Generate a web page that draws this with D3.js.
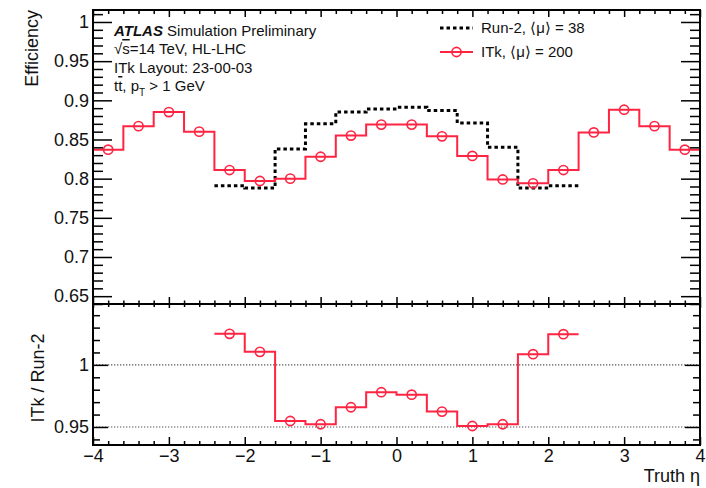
<!DOCTYPE html>
<html>
<head>
<meta charset="utf-8">
<script src="https://cdn.jsdelivr.net/npm/d3@7"></script>
<style>
  body { margin: 0; background: #fff; }
  svg { display: block; font-family: "Liberation Sans", Arial, Helvetica, sans-serif; }
</style>
</head>
<body>
<svg id="chart" width="706" height="488"></svg>
<script>
// ---- data: track reconstruction efficiency vs truth eta (bin centres, 0.4 wide bins)
const itkBins = [-3.8, -3.4, -3.0, -2.6, -2.2, -1.8, -1.4, -1.0, -0.6, -0.2,
                  0.2, 0.6, 1.0, 1.4, 1.8, 2.2, 2.6, 3.0, 3.4, 3.8];
const itkEff  = [0.837, 0.867, 0.885, 0.860, 0.811, 0.797, 0.800, 0.828, 0.855, 0.869,
                 0.869, 0.854, 0.829, 0.799, 0.794, 0.811, 0.859, 0.888, 0.867, 0.837];
const run2Bins = [-2.2, -1.8, -1.4, -1.0, -0.6, -0.2, 0.2, 0.6, 1.0, 1.4, 1.8, 2.2];
const run2Eff  = [0.791, 0.788, 0.838, 0.870, 0.885, 0.889, 0.891, 0.887, 0.871, 0.840, 0.788, 0.791];
const ratioVals = [1.025, 1.0105, 0.9548, 0.9522, 0.9659, 0.978, 0.976, 0.9624, 0.9508, 0.9522, 1.0086, 1.0247];
const binHalfWidth = 0.2;

// ---- tick labels
const xTicks = [-4, -3, -2, -1, 0, 1, 2, 3, 4];
const effTicks = [0.65, 0.7, 0.75, 0.8, 0.85, 0.9, 0.95, 1];
const ratioTicks = [0.95, 1];
const ratioRefLines = [0.95, 1];

const legendLabels = ["Run-2, \u27E8\u03BC\u27E9 = 38", "ITk, \u27E8\u03BC\u27E9 = 200"];

// ---- layout
const L = 93, R = 700;
const topY0 = 10, topY1 = 304, botY0 = 304, botY1 = 445;
const RED = "#ff2442";
const FONT_AX = 18;

const svg = d3.select("#chart");
const x = d3.scaleLinear([-4, 4], [L, R]);
const yTop = d3.scaleLinear([0.64, 1.0153], [topY1, topY0]);
const yBot = d3.scaleLinear([0.9355, 1.049], [botY1, botY0]);

const xMinor = d3.range(-40, 41, 2).map(d => d / 10).filter(d => !xTicks.includes(d));
const effMinor = d3.range(64, 102).map(d => d / 100).filter(d => !effTicks.some(t => Math.abs(t - d) < 1e-9));
const ratioMinor = d3.range(94, 105).map(d => d / 100).filter(d => !ratioTicks.some(t => Math.abs(t - d) < 1e-9));

function drawAxis(axis, transform, labelled) {
  const g = svg.append("g").attr("transform", transform).call(axis);
  g.select(".domain").remove();
  g.selectAll(".tick line").attr("stroke", "#000").attr("stroke-width", 1.5);
  if (labelled) {
    g.selectAll(".tick text").attr("font-size", FONT_AX).attr("fill", "#111")
      .attr("font-family", "'Liberation Sans', Arial, sans-serif");
  } else {
    g.selectAll(".tick text").remove();
  }
  return g;
}

// ---- step path builder: horizontal over each bin, vertical joins between bins
function stepPoints(centres, vals) {
  const pts = [];
  centres.forEach((c, i) => {
    pts.push([c - binHalfWidth, vals[i]]);
    pts.push([c + binHalfWidth, vals[i]]);
  });
  return pts;
}

// ===== top panel =====
const topClip = svg.append("clipPath").attr("id", "clipTop")
  .append("rect").attr("x", L).attr("y", topY0).attr("width", R - L).attr("height", topY1 - topY0);

const lineTop = d3.line().x(d => x(d[0])).y(d => yTop(d[1]));
const topG = svg.append("g").attr("clip-path", "url(#clipTop)");

topG.append("path")
  .attr("d", lineTop(stepPoints(run2Bins, run2Eff)))
  .attr("fill", "none").attr("stroke", "#000").attr("stroke-width", 3)
  .attr("stroke-dasharray", "3.5,3");

topG.append("path")
  .attr("d", lineTop(stepPoints(itkBins, itkEff)))
  .attr("fill", "none").attr("stroke", RED).attr("stroke-width", 2);

topG.selectAll("circle.itk").data(itkBins).join("circle")
  .attr("class", "itk")
  .attr("cx", d => x(d)).attr("cy", (d, i) => yTop(itkEff[i]))
  .attr("r", 4.6).attr("fill", "none").attr("stroke", RED).attr("stroke-width", 1.6);

// axes of top panel
drawAxis(d3.axisLeft(yTop).tickValues(effTicks).tickSizeInner(-19).tickSizeOuter(0).tickPadding(4)
  .tickFormat(d3.format("~g")), `translate(${L},0)`, true);
drawAxis(d3.axisLeft(yTop).tickValues(effMinor).tickSizeInner(-10).tickSizeOuter(0), `translate(${L},0)`, false);
drawAxis(d3.axisRight(yTop).tickValues(effTicks).tickSizeInner(-19).tickSizeOuter(0), `translate(${R},0)`, false);
drawAxis(d3.axisRight(yTop).tickValues(effMinor).tickSizeInner(-10).tickSizeOuter(0), `translate(${R},0)`, false);
drawAxis(d3.axisBottom(x).tickValues(xTicks).tickSizeInner(-7).tickSizeOuter(0), `translate(0,${topY1})`, false);
drawAxis(d3.axisBottom(x).tickValues(xMinor).tickSizeInner(-3.5).tickSizeOuter(0), `translate(0,${topY1})`, false);
drawAxis(d3.axisTop(x).tickValues(xTicks).tickSizeInner(-7).tickSizeOuter(0), `translate(0,${topY0})`, false);
drawAxis(d3.axisTop(x).tickValues(xMinor).tickSizeInner(-4).tickSizeOuter(0), `translate(0,${topY0})`, false);

svg.append("rect").attr("x", L).attr("y", topY0).attr("width", R - L).attr("height", topY1 - topY0)
  .attr("fill", "none").attr("stroke", "#000").attr("stroke-width", 2);

svg.append("text")
  .attr("transform", `translate(38,${topY0}) rotate(-90)`)
  .attr("text-anchor", "end").attr("font-size", FONT_AX).attr("fill", "#111")
  .text("Efficiency");

// ATLAS label block
const info = svg.append("g").attr("font-size", 15).attr("fill", "#111");
const t1 = info.append("text").attr("x", 114).attr("y", 36);
t1.append("tspan").attr("font-weight", "bold").attr("font-style", "italic").text("ATLAS");
t1.append("tspan").text(" Simulation Preliminary");
const t2 = info.append("text").attr("x", 114).attr("y", 54);
t2.append("tspan").text("\u221A");
t2.append("tspan").style("text-decoration", "overline").text("s");
t2.append("tspan").text("=14 TeV, HL-LHC");
info.append("text").attr("x", 114).attr("y", 73).text("ITk Layout: 23-00-03");
const t4 = info.append("text").attr("x", 114).attr("y", 91);
t4.append("tspan").text("t");
t4.append("tspan").style("text-decoration", "overline").text("t");
t4.append("tspan").text(", p");
t4.append("tspan").attr("font-size", 10).attr("dy", 5).text("T");
t4.append("tspan").attr("dy", -5).text(" > 1 GeV");

// legend
const leg = svg.append("g").attr("font-size", 15).attr("fill", "#111");
leg.append("line").attr("x1", 440).attr("x2", 473).attr("y1", 28).attr("y2", 28)
  .attr("stroke", "#000").attr("stroke-width", 3).attr("stroke-dasharray", "3.5,3");
leg.append("text").attr("x", 481).attr("y", 33).text(legendLabels[0]);
leg.append("line").attr("x1", 440).attr("x2", 473).attr("y1", 52).attr("y2", 52)
  .attr("stroke", RED).attr("stroke-width", 2);
leg.append("circle").attr("cx", 456.5).attr("cy", 52).attr("r", 4.6)
  .attr("fill", "none").attr("stroke", RED).attr("stroke-width", 1.6);
leg.append("text").attr("x", 481).attr("y", 57).text(legendLabels[1]);

// ===== ratio panel =====
svg.append("clipPath").attr("id", "clipBot")
  .append("rect").attr("x", L).attr("y", botY0).attr("width", R - L).attr("height", botY1 - botY0);
const botG = svg.append("g").attr("clip-path", "url(#clipBot)");

botG.selectAll("line.ref").data(ratioRefLines).join("line")
  .attr("class", "ref")
  .attr("x1", L).attr("x2", R).attr("y1", d => yBot(d)).attr("y2", d => yBot(d))
  .attr("stroke", "#555").attr("stroke-width", 1.2).attr("stroke-dasharray", "1.3,1.7");

const lineBot = d3.line().x(d => x(d[0])).y(d => yBot(d[1]));
botG.append("path")
  .attr("d", lineBot(stepPoints(run2Bins, ratioVals)))
  .attr("fill", "none").attr("stroke", RED).attr("stroke-width", 2);
botG.selectAll("circle.ratio").data(run2Bins).join("circle")
  .attr("class", "ratio")
  .attr("cx", d => x(d)).attr("cy", (d, i) => yBot(ratioVals[i]))
  .attr("r", 4.6).attr("fill", "none").attr("stroke", RED).attr("stroke-width", 1.6);

drawAxis(d3.axisLeft(yBot).tickValues(ratioTicks).tickSizeInner(-15).tickSizeOuter(0).tickPadding(4)
  .tickFormat(d3.format("~g")), `translate(${L},0)`, true);
drawAxis(d3.axisLeft(yBot).tickValues(ratioMinor).tickSizeInner(-7).tickSizeOuter(0), `translate(${L},0)`, false);
drawAxis(d3.axisRight(yBot).tickValues(ratioTicks).tickSizeInner(-15).tickSizeOuter(0), `translate(${R},0)`, false);
drawAxis(d3.axisRight(yBot).tickValues(ratioMinor).tickSizeInner(-7).tickSizeOuter(0), `translate(${R},0)`, false);
drawAxis(d3.axisBottom(x).tickValues(xTicks).tickSizeInner(-8).tickSizeOuter(0).tickPadding(4)
  .tickFormat(d3.format("d")), `translate(0,${botY1})`, true);
drawAxis(d3.axisBottom(x).tickValues(xMinor).tickSizeInner(-4).tickSizeOuter(0), `translate(0,${botY1})`, false);
drawAxis(d3.axisTop(x).tickValues(xTicks).tickSizeInner(-4).tickSizeOuter(0), `translate(0,${botY0})`, false);
drawAxis(d3.axisTop(x).tickValues(xMinor).tickSizeInner(-3).tickSizeOuter(0), `translate(0,${botY0})`, false);

svg.append("rect").attr("x", L).attr("y", botY0).attr("width", R - L).attr("height", botY1 - botY0)
  .attr("fill", "none").attr("stroke", "#000").attr("stroke-width", 2);

svg.append("text")
  .attr("transform", `translate(44,378) rotate(-90)`)
  .attr("text-anchor", "middle").attr("font-size", FONT_AX).attr("fill", "#111")
  .text("ITk / Run-2");

svg.append("text")
  .attr("x", R).attr("y", 482).attr("text-anchor", "end")
  .attr("font-size", FONT_AX).attr("fill", "#111")
  .text("Truth \u03B7");
</script>
</body>
</html>
